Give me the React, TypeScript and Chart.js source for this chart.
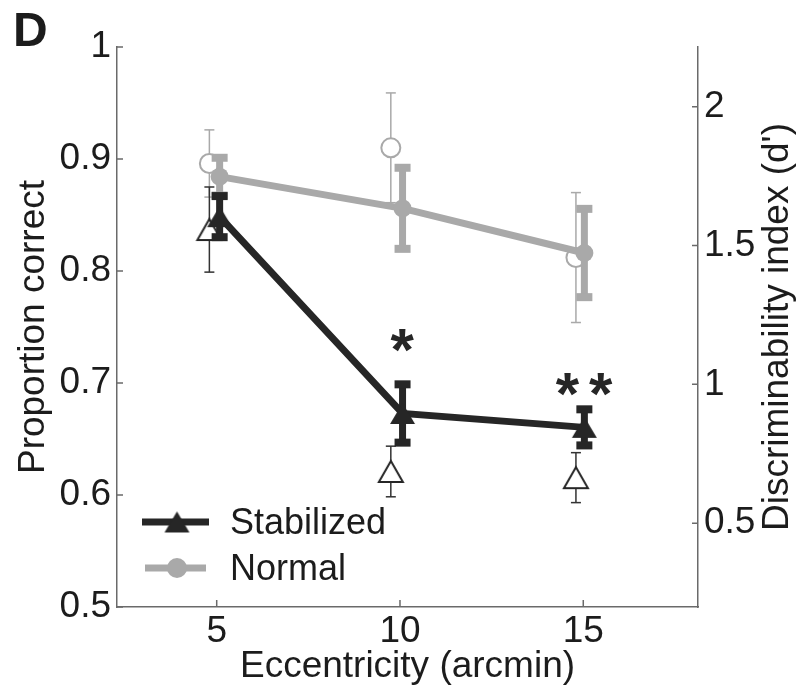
import React, { useEffect, useRef } from 'react';
import { Chart, registerables } from 'chart.js';

Chart.register(...registerables);

// ---------------- data ----------------
const eccentricity = [5, 10, 15];
// marker x-positions as plotted (filled = d', open = proportion correct)
const xFilled = [5.08, 10.07, 15.03];
const xOpen = [4.8, 9.75, 14.8];

// d' (right axis), filled markers, thick error bars
const stabilizedDprime = [1.604, 0.895, 0.845];
const stabilizedDprimeErr = [0.074, 0.105, 0.065];
const normalDprime = [1.748, 1.634, 1.473];
const normalDprimeErr = [0.068, 0.146, 0.159];

// proportion correct (left axis), open markers, thin error bars
const stabilizedPC = [0.837, 0.621, 0.6155];
const stabilizedPCErr = [0.038, 0.0226, 0.0223];
const normalPC = [0.896, 0.91, 0.812];
const normalPCErr = [0.03, 0.049, 0.058];

const xTicks = [5, 10, 15];
const yTicks = [0.5, 0.6, 0.7, 0.8, 0.9, 1];
const y2Ticks = [0.5, 1, 1.5, 2];

const xRange = [2.28, 18.13];
const yRange = [0.5, 1];
const y2Range = [0.198, 2.215];

const seriesLabels = ['Stabilized', 'Normal'];
const sigLabels = ['*', '**'];
const sigX = [10.07, 15.03];
const sigY = [1.097, 1.0];

const xTitle = 'Eccentricity (arcmin)';
const yTitle = 'Proportion correct';
const y2Title = "Discriminability index (d')";
const panelLabel = 'D';

// ---------------- styles ----------------
const FONT = "'Liberation Sans', Arial, Helvetica, sans-serif";
const BLACK = '#262626';
const GRAY = '#a9a9a9';
const AXIS = '#6a6a6a';
const TEXT = '#1c1c1c';

function makeTriangle(w: number, h: number, fill: string | null, stroke: string | null, lw: number) {
  const c = document.createElement('canvas');
  const pad = Math.ceil(lw) + 1;
  c.width = Math.ceil(w + 2 * pad);
  c.height = Math.ceil(h + 2 * pad);
  const ctx = c.getContext('2d')!;
  const cx = c.width / 2;
  const top = (c.height - h) / 2;
  ctx.beginPath();
  ctx.moveTo(cx, top);
  ctx.lineTo(cx + w / 2, top + h);
  ctx.lineTo(cx - w / 2, top + h);
  ctx.closePath();
  if (fill) {
    ctx.fillStyle = fill;
    ctx.fill();
  }
  if (stroke) {
    ctx.lineWidth = lw;
    ctx.strokeStyle = stroke;
    ctx.lineJoin = 'miter';
    ctx.stroke();
  }
  return c;
}

const THICK = { bar: 7, capW: 16, capH: 8 };
const THIN = { bar: 1.5, capW: 10, capH: 1.5 };

const errorBarPlugin = {
  id: 'errorBars',
  beforeDatasetDraw(chart: any, args: any) {
    const ds: any = chart.data.datasets[args.index];
    if (!ds.errors) return;
    const meta = chart.getDatasetMeta(args.index);
    const xs = chart.scales[meta.xAxisID];
    const ys = chart.scales[meta.yAxisID];
    const ctx = chart.ctx;
    const e = ds.errStyle;
    ctx.save();
    ctx.fillStyle = ds.errColor;
    ds.data.forEach((p: any, i: number) => {
      const x = xs.getPixelForValue(p.x);
      const y1 = ys.getPixelForValue(p.y + ds.errors[i]);
      const y2 = ys.getPixelForValue(p.y - ds.errors[i]);
      ctx.fillRect(x - e.bar / 2, y1, e.bar, y2 - y1);
      ctx.fillRect(x - e.capW / 2, y1 - e.capH / 2, e.capW, e.capH);
      ctx.fillRect(x - e.capW / 2, y2 - e.capH / 2, e.capW, e.capH);
    });
    ctx.restore();
  },
};

const inwardTicksPlugin = {
  id: 'inwardTicks',
  beforeDatasetsDraw(chart: any) {
    const { ctx, chartArea: a, scales } = chart;
    ctx.save();
    ctx.strokeStyle = AXIS;
    ctx.lineWidth = 1.5;
    ctx.beginPath();
    scales.x.ticks.forEach((t: any) => {
      const px = scales.x.getPixelForValue(t.value);
      ctx.moveTo(px, a.bottom);
      ctx.lineTo(px, a.bottom - 7);
    });
    scales.y.ticks.forEach((t: any) => {
      const py = scales.y.getPixelForValue(t.value);
      ctx.moveTo(a.left, py);
      ctx.lineTo(a.left + 6, py);
    });
    scales.y2.ticks.forEach((t: any) => {
      const py = scales.y2.getPixelForValue(t.value);
      ctx.moveTo(a.right, py);
      ctx.lineTo(a.right - 6, py);
    });
    ctx.stroke();
    ctx.restore();
  },
};

function makeOverlayPlugin(triFilled: HTMLCanvasElement) {
  return {
    id: 'overlay',
    afterDraw(chart: any) {
      const { ctx, chartArea: a, scales } = chart;
      ctx.save();
      ctx.fillStyle = TEXT;

      // axis titles
      ctx.font = `37px ${FONT}`;
      ctx.textAlign = 'center';
      ctx.textBaseline = 'middle';
      ctx.fillText(xTitle, (a.left + a.right) / 2, a.bottom + 60);
      ctx.save();
      ctx.translate(a.left - 83, (a.top + a.bottom) / 2);
      ctx.rotate(-Math.PI / 2);
      ctx.fillText(yTitle, 0, 0);
      ctx.restore();
      ctx.save();
      ctx.translate(a.right + 80, (a.top + a.bottom) / 2);
      ctx.rotate(-Math.PI / 2);
      ctx.fillText(y2Title, 0, 0);
      ctx.restore();

      // panel label
      ctx.font = `bold 48px ${FONT}`;
      ctx.textAlign = 'left';
      ctx.textBaseline = 'alphabetic';
      ctx.fillText(panelLabel, 13, 46);

      // legend
      [0, 1].forEach((di, r) => {
        const ds: any = chart.data.datasets[di];
        const y = a.bottom - 85 + r * 46;
        ctx.strokeStyle = ds.borderColor;
        ctx.lineWidth = 7;
        ctx.beginPath();
        ctx.moveTo(a.left + 25 + r * 3, y);
        ctx.lineTo(a.left + 92 - r * 3, y);
        ctx.stroke();
        const mx = a.left + 60;
        if (di === 0) {
          ctx.drawImage(triFilled, mx - triFilled.width / 2, y - triFilled.height / 2);
        } else {
          ctx.fillStyle = ds.borderColor;
          ctx.beginPath();
          ctx.arc(mx, y, 10, 0, Math.PI * 2);
          ctx.fill();
        }
        ctx.fillStyle = TEXT;
        ctx.font = `36px ${FONT}`;
        ctx.textAlign = 'left';
        ctx.textBaseline = 'middle';
        ctx.fillText(ds.label, a.left + 113, y + 2);
      });

      // significance asterisks
      ctx.font = `bold 60px ${FONT}`;
      ctx.fillStyle = BLACK;
      sigLabels.forEach((t, i) => {
        const x = scales.x.getPixelForValue(sigX[i]);
        const y = scales.y2.getPixelForValue(sigY[i]);
        (ctx as any).letterSpacing = t.length > 1 ? '10px' : '0px';
        const m = ctx.measureText(t);
        const w = m.actualBoundingBoxLeft + m.actualBoundingBoxRight;
        const h = m.actualBoundingBoxAscent + m.actualBoundingBoxDescent;
        ctx.textAlign = 'left';
        ctx.textBaseline = 'alphabetic';
        ctx.fillText(t, x - w / 2 + m.actualBoundingBoxLeft, y + h / 2 - m.actualBoundingBoxDescent);
      });
      (ctx as any).letterSpacing = '0px';
      ctx.restore();
    },
  };
}

const pts = (xs: number[], ys: number[]) => xs.map((x, i) => ({ x, y: ys[i] }));

function axisCommon(ticks: number[], range: number[]) {
  return {
    type: 'linear' as const,
    min: range[0],
    max: range[1],
    afterBuildTicks: (s: any) => {
      s.ticks = ticks.map((v) => ({ value: v }));
    },
    grid: { display: false, drawTicks: false },
    border: { display: true, color: AXIS, width: 1.5 },
    ticks: {
      font: { family: FONT, size: 37 },
      color: TEXT,
      autoSkip: false,
      maxRotation: 0,
      callback: (v: any) => String(v),
    },
  };
}

export default function App() {
  const ref = useRef<HTMLCanvasElement>(null);

  useEffect(() => {
    document.body.style.margin = '0';
    const triFilled = makeTriangle(25, 21, BLACK, null, 0);
    const triOpen = makeTriangle(24, 21, '#ffffff', BLACK, 2);

    const xAxis: any = axisCommon(xTicks, xRange);
    xAxis.afterFit = (s: any) => {
      s.height = 84;
    };
    xAxis.ticks.padding = 3;
    const yAxis: any = axisCommon(yTicks, yRange);
    yAxis.position = 'left';
    yAxis.afterFit = (s: any) => {
      s.width = 117;
    };
    yAxis.ticks.padding = 6;
    const y2Axis: any = axisCommon(y2Ticks, y2Range);
    y2Axis.position = 'right';
    y2Axis.afterFit = (s: any) => {
      s.width = 104;
    };
    y2Axis.ticks.padding = 6;

    const chart = new Chart(ref.current!, {
      type: 'scatter',
      data: {
        datasets: [
          {
            label: seriesLabels[0],
            data: pts(xFilled, stabilizedDprime),
            yAxisID: 'y2',
            showLine: true,
            borderColor: BLACK,
            backgroundColor: BLACK,
            borderWidth: 7,
            pointStyle: triFilled,
            pointRadius: 12,
            errors: stabilizedDprimeErr,
            errStyle: THICK,
            errColor: BLACK,
          } as any,
          {
            label: seriesLabels[1],
            data: pts(xFilled, normalDprime),
            yAxisID: 'y2',
            showLine: true,
            borderColor: GRAY,
            backgroundColor: GRAY,
            borderWidth: 7,
            pointStyle: 'circle',
            pointRadius: 9,
            pointBorderWidth: 0,
            errors: normalDprimeErr,
            errStyle: THICK,
            errColor: GRAY,
          } as any,
          {
            label: seriesLabels[0] + ' (proportion correct)',
            data: pts(xOpen, stabilizedPC),
            yAxisID: 'y',
            showLine: false,
            borderColor: BLACK,
            backgroundColor: '#ffffff',
            pointStyle: triOpen,
            pointRadius: 12,
            errors: stabilizedPCErr,
            errStyle: THIN,
            errColor: '#333333',
          } as any,
          {
            label: seriesLabels[1] + ' (proportion correct)',
            data: pts(xOpen, normalPC),
            yAxisID: 'y',
            showLine: false,
            borderColor: GRAY,
            backgroundColor: '#ffffff',
            pointStyle: 'circle',
            pointRadius: 9.5,
            pointBorderWidth: 2,
            errors: normalPCErr,
            errStyle: THIN,
            errColor: GRAY,
          } as any,
        ],
      },
      options: {
        responsive: false,
        animation: false,
        layout: { padding: { top: 47, left: 0, right: 0, bottom: 0 } },
        plugins: { legend: { display: false }, tooltip: { enabled: false } },
        scales: { x: xAxis, y: yAxis, y2: y2Axis },
      },
      plugins: [errorBarPlugin, inwardTicksPlugin, makeOverlayPlugin(triFilled)],
    });
    return () => chart.destroy();
  }, []);

  return (
    <div style={{ width: 802, height: 691 }}>
      <canvas ref={ref} width={802} height={691} data-categories={eccentricity.join(',')} />
    </div>
  );
}
